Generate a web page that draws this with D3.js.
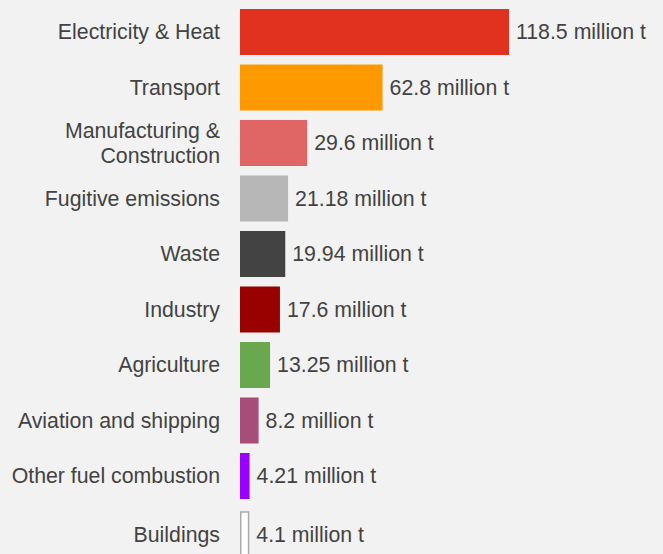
<!DOCTYPE html>
<html><head><meta charset="utf-8">
<script src="https://cdn.jsdelivr.net/npm/d3@7"></script>
<style>html,body{margin:0;padding:0;background:#f2f2f2;}svg{display:block;}</style>
</head><body>
<svg id="c" width="663" height="554"></svg>
<script>
const categories = ["Electricity & Heat","Transport","Manufacturing & Construction","Fugitive emissions","Waste","Industry","Agriculture","Aviation and shipping","Other fuel combustion","Buildings"];
const values = [118.5, 62.8, 29.6, 21.18, 19.94, 17.6, 13.25, 8.2, 4.21, 4.1];
const valueLabels = ["118.5 million t","62.8 million t","29.6 million t","21.18 million t","19.94 million t","17.6 million t","13.25 million t","8.2 million t","4.21 million t","4.1 million t"];
const colors = ["#e1321f","#ff9900","#e06666","#b7b7b7","#434343","#990000","#6aa84f","#a64d79","#9900ff","#ffffff"];
const labelLines = [["Electricity & Heat"],["Transport"],["Manufacturing &","Construction"],["Fugitive emissions"],["Waste"],["Industry"],["Agriculture"],["Aviation and shipping"],["Other fuel combustion"],["Buildings"]];

const svg = d3.select("#c");
const x = d3.scaleLinear().domain([0, 118.5]).range([240, 509]);
const y = d3.scaleBand().domain(categories).range([9, 554.5]).paddingInner(0.171).paddingOuter(0);
const font = "Liberation Sans, Arial, sans-serif";
const fs = 21.3;
const outlined = i => i === 9;
const shift = i => outlined(i) ? 3.5 : 0;

svg.selectAll("rect.bar").data(categories).join("rect")
  .attr("class","bar")
  .attr("x", (d,i) => outlined(i) ? x(0) + 0.75 : x(0))
  .attr("y", (d,i) => y(d) + shift(i))
  .attr("width", (d,i) => outlined(i) ? x(values[i]) - x(0) - 1.5 : x(values[i]) - x(0))
  .attr("height", y.bandwidth())
  .attr("fill", (d,i) => colors[i])
  .attr("stroke", (d,i) => outlined(i) ? "#aaaaaa" : "none")
  .attr("stroke-width", 1.5);

svg.selectAll("text.val").data(categories).join("text")
  .attr("class","val")
  .attr("x", (d,i) => x(values[i]) + 7)
  .attr("y", (d,i) => y(d) + y.bandwidth()/2 + shift(i))
  .attr("dy", "0.35em")
  .attr("font-family", font).attr("font-size", fs).attr("fill", "#424242")
  .text((d,i) => valueLabels[i]);

const cat = svg.selectAll("text.cat").data(categories).join("text")
  .attr("class","cat")
  .attr("text-anchor","end")
  .attr("font-family", font).attr("font-size", fs).attr("fill", "#424242");
cat.each(function(d,i){
  const lines = labelLines[i];
  const cy = y(d) + y.bandwidth()/2 + shift(i);
  const lh = 25;
  d3.select(this).selectAll("tspan").data(lines).join("tspan")
    .attr("x", 220)
    .attr("y", (l,j) => cy + (j - (lines.length-1)/2) * lh)
    .attr("dy", "0.35em")
    .text(l => l);
});
</script>
</body></html>
